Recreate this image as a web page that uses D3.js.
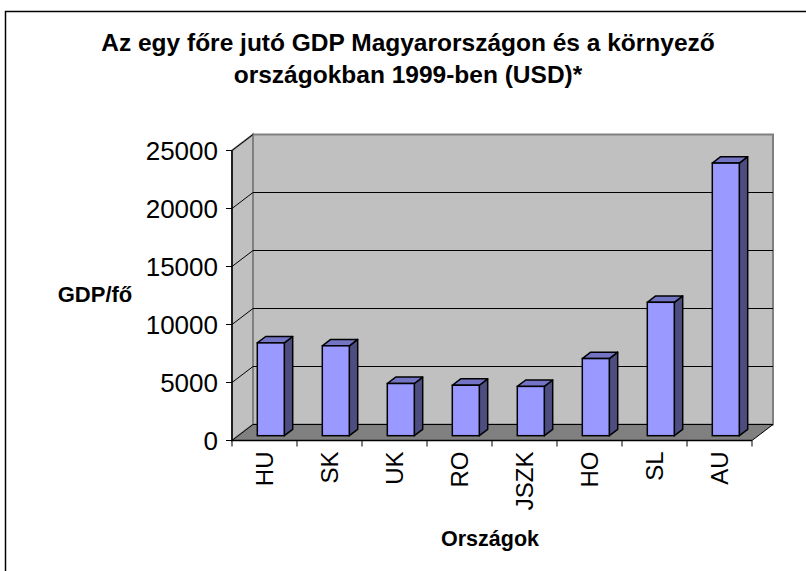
<!DOCTYPE html>
<html>
<head>
<meta charset="utf-8">
<script src="https://cdn.jsdelivr.net/npm/d3@7"></script>
<style>
  body { margin: 0; background: #fff; }
  text { font-family: Arial, "Liberation Sans", sans-serif; }
</style>
</head>
<body>
<div id="chart"></div>
<script>
// data
var categories = ["HU", "SK", "UK", "RO", "JSZK", "HO", "SL", "AU"];
var gdp = [8000, 7750, 4500, 4350, 4250, 6650, 11500, 23500];
var yTicks = [0, 5000, 10000, 15000, 20000, 25000];
var titleLines = ["Az egy főre jutó GDP Magyarországon és a környező", "országokban 1999-ben (USD)*"];

var width = 806, height = 571;
var DX = 21, DY = 16;          // depth of the 3d box
var f0 = 0.3, fd = 0.4;        // bar front offset and bar depth (fraction of box depth)

var svg = d3.select("#chart").append("svg")
    .attr("width", width)
    .attr("height", height);

// outer frame
svg.append("rect")
    .attr("x", 5.5).attr("y", 11.5)
    .attr("width", 820).attr("height", 580)
    .attr("fill", "none")
    .attr("stroke", "#000")
    .attr("stroke-width", 1.5);

var x = d3.scaleBand().domain(categories).range([232, 752]);
var y = d3.scaleLinear().domain([0, 25000]).range([440.5, 150.5]);
var x0 = x.range()[0], x1 = x.range()[1];

function poly(pts) { return "M" + pts.map(p => p.join(",")).join("L") + "Z"; }

// back wall
svg.append("path")
    .attr("d", poly([[x0 + DX, y(25000) - DY], [x1 + DX, y(25000) - DY], [x1 + DX, y(0) - DY], [x0 + DX, y(0) - DY]]))
    .attr("fill", "#c0c0c0")
    .attr("stroke", "#808080")
    .attr("stroke-width", 2);
// side wall
svg.append("path")
    .attr("d", poly([[x0, y(25000)], [x0 + DX, y(25000) - DY], [x0 + DX, y(0) - DY], [x0, y(0)]]))
    .attr("fill", "#c0c0c0")
    .attr("stroke", "#808080")
    .attr("stroke-width", 2);
// floor
svg.append("path")
    .attr("d", poly([[x0, y(0)], [x1, y(0)], [x1 + DX, y(0) - DY], [x0 + DX, y(0) - DY]]))
    .attr("fill", "#808080")
    .attr("stroke", "#000")
    .attr("stroke-width", 1);

// gridlines
var grid = svg.append("g");
yTicks.filter(v => v > 0 && v < 25000).forEach(function (v) {
    grid.append("line")
        .attr("x1", x0 + DX).attr("x2", x1 + DX)
        .attr("y1", y(v) - DY).attr("y2", y(v) - DY)
        .attr("stroke", "#000").attr("stroke-width", 1);
});
yTicks.filter(v => v > 0).forEach(function (v) {
    grid.append("line")
        .attr("x1", x0).attr("y1", y(v))
        .attr("x2", x0 + DX).attr("y2", y(v) - DY)
        .attr("stroke", "#000").attr("stroke-width", 1);
});

// bars
var bw = 27;
var bars = svg.append("g").selectAll("g")
    .data(categories.map((c, i) => ({ c: c, v: gdp[i] })))
    .enter().append("g");

function barGeom(d) {
    var cx = x(d.c) + x.bandwidth() / 2 + f0 * DX;
    var l = cx - bw / 2, r = cx + bw / 2;
    var b = y(0) - f0 * DY, t = y(d.v) - f0 * DY;
    return { l: l, r: r, b: b, t: t, dx: fd * DX, dy: fd * DY };
}
bars.append("path")
    .attr("d", function (d) {
        var g = barGeom(d);
        return poly([[g.r, g.t], [g.r + g.dx, g.t - g.dy], [g.r + g.dx, g.b - g.dy], [g.r, g.b]]);
    })
    .attr("fill", "#4d4d80")
    .attr("stroke", "#000").attr("stroke-width", 1.5).attr("stroke-linejoin", "round");
bars.append("path")
    .attr("d", function (d) {
        var g = barGeom(d);
        return poly([[g.l, g.t], [g.l + g.dx, g.t - g.dy], [g.r + g.dx, g.t - g.dy], [g.r, g.t]]);
    })
    .attr("fill", "#7474c4")
    .attr("stroke", "#000").attr("stroke-width", 1.5).attr("stroke-linejoin", "round");
bars.append("rect")
    .attr("x", d => barGeom(d).l)
    .attr("y", d => barGeom(d).t)
    .attr("width", bw)
    .attr("height", d => barGeom(d).b - barGeom(d).t)
    .attr("fill", "#9999ff")
    .attr("stroke", "#000").attr("stroke-width", 1.5);

// y axis
var yAxis = svg.append("g");
yAxis.append("line")
    .attr("x1", x0).attr("x2", x0)
    .attr("y1", y(25000)).attr("y2", y(0))
    .attr("stroke", "#000").attr("stroke-width", 1.5);
yTicks.forEach(function (v) {
    yAxis.append("line")
        .attr("x1", x0 - 6).attr("x2", x0)
        .attr("y1", y(v)).attr("y2", y(v))
        .attr("stroke", "#000").attr("stroke-width", 1);
    yAxis.append("text")
        .attr("x", x0 - 14).attr("y", y(v))
        .attr("dy", "0.36em")
        .attr("text-anchor", "end")
        .attr("font-size", 26)
        .text(v);
});

// x axis
var xAxis = svg.append("g");
xAxis.append("line")
    .attr("x1", x0).attr("x2", x1)
    .attr("y1", y(0)).attr("y2", y(0))
    .attr("stroke", "#000").attr("stroke-width", 1.5);
categories.concat([null]).forEach(function (c, i) {
    var xx = x0 + i * x.step();
    xAxis.append("line")
        .attr("x1", xx).attr("x2", xx)
        .attr("y1", y(0)).attr("y2", y(0) + 6)
        .attr("stroke", "#000").attr("stroke-width", 1);
});
categories.forEach(function (c) {
    var cx = x(c) + x.bandwidth() / 2;
    xAxis.append("text")
        .attr("transform", "translate(" + (cx + 8) + "," + (y(0) + 11) + ") rotate(-90)")
        .attr("text-anchor", "end")
        .attr("font-size", 24)
        .text(c);
});

// titles
svg.append("text")
    .attr("x", 408).attr("y", 51)
    .attr("text-anchor", "middle")
    .attr("font-size", 24.5).attr("font-weight", "bold")
    .selectAll("tspan").data(titleLines).enter().append("tspan")
    .attr("x", 408)
    .attr("dy", (d, i) => i ? 32 : 0)
    .text(d => d);

svg.append("text")
    .attr("x", 490).attr("y", 546)
    .attr("text-anchor", "middle")
    .attr("font-size", 21.5).attr("font-weight", "bold")
    .text("Országok");

svg.append("text")
    .attr("x", 95).attr("y", 302)
    .attr("text-anchor", "middle")
    .attr("font-size", 22).attr("font-weight", "bold")
    .text("GDP/fő");
</script>
</body>
</html>
